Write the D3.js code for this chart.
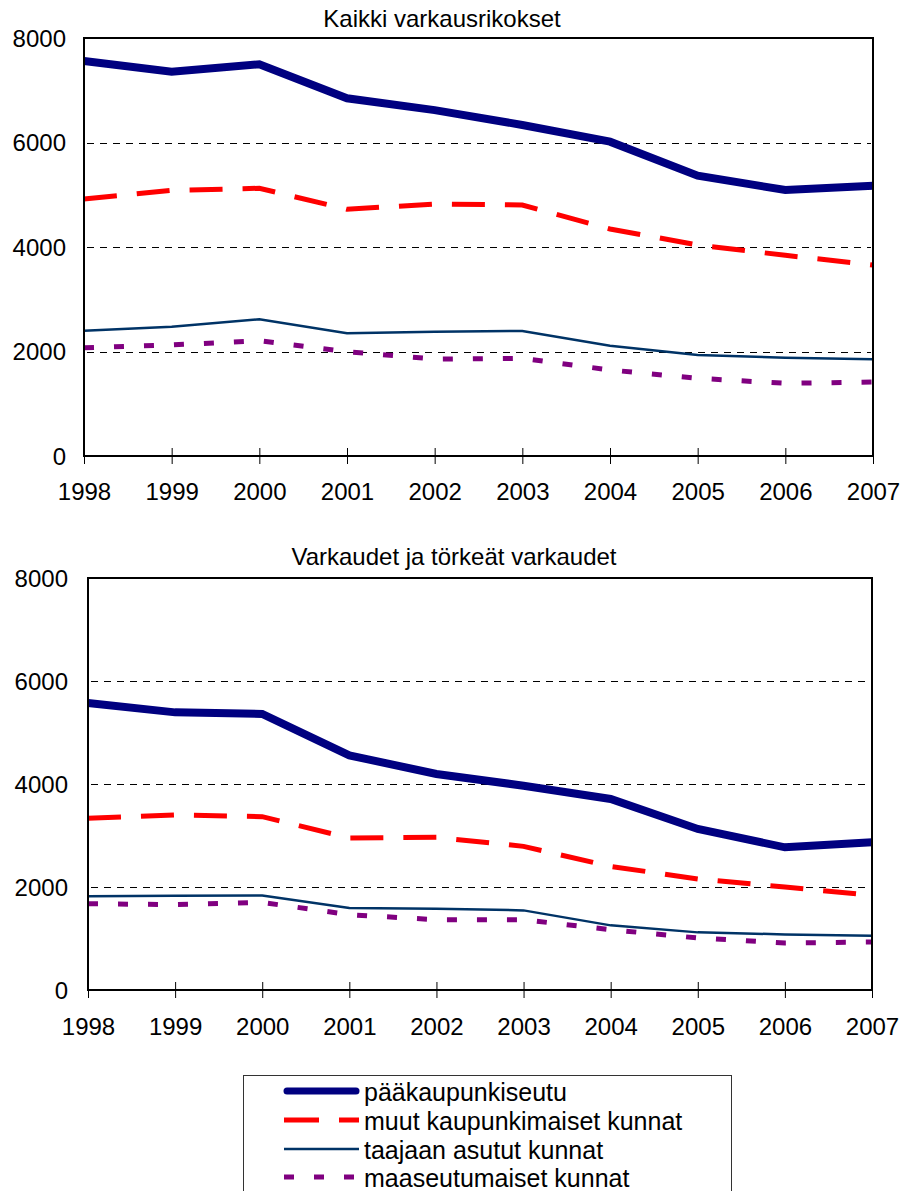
<!DOCTYPE html>
<html>
<head>
<meta charset="utf-8">
<script src="https://cdn.jsdelivr.net/npm/d3@7"></script>
<style>
  html, body { margin: 0; padding: 0; background: #fff; }
  svg { display: block; font-family: "Liberation Sans", Arial, sans-serif; }
</style>
</head>
<body>
<svg id="chart" width="903" height="1191"></svg>
<script>
// ---- data ----
const years = [1998, 1999, 2000, 2001, 2002, 2003, 2004, 2005, 2006, 2007];
const yTicks = [0, 2000, 4000, 6000, 8000];
const seriesNames = ["pääkaupunkiseutu", "muut kaupunkimaiset kunnat", "taajaan asutut kunnat", "maaseutumaiset kunnat"];

const titleTop = "Kaikki varkausrikokset";
const topPaakaupunki = [7560, 7356, 7497, 6846, 6620, 6335, 6016, 5365, 5091, 5174];
const topMuut        = [4919, 5085, 5124, 4722, 4823, 4804, 4345, 4039, 3841, 3656];
const topTaajaan     = [2398, 2475, 2616, 2348, 2380, 2393, 2111, 1933, 1882, 1850];
const topMaaseutu    = [2073, 2125, 2207, 1997, 1855, 1870, 1646, 1487, 1391, 1416];

const titleBottom = "Varkaudet ja törkeät varkaudet";
const botPaakaupunki = [5573, 5391, 5360, 4556, 4195, 3967, 3709, 3127, 2770, 2867];
const botMuut        = [3333, 3398, 3366, 2952, 2964, 2789, 2400, 2156, 2000, 1837];
const botTaajaan     = [1818, 1831, 1837, 1592, 1579, 1546, 1255, 1119, 1080, 1055];
const botMaaseutu    = [1676, 1657, 1701, 1462, 1365, 1365, 1171, 1010, 913, 932];

// ---- styles ----
const styles = [
  { color: "#000080", width: 8, dash: null },
  { color: "#ff0000", width: 5, dash: "33,20" },
  { color: "#003366", width: 2.5, dash: null },
  { color: "#800080", width: 5, dash: "10,20" }
];

const svg = d3.select("#chart");

function drawPanel(cfg) {
  const { left, right, top, bottom, title, titleX, titleY, labelRight, yearBaseline, values } = cfg;
  const x = d3.scaleLinear().domain([years[0], years[years.length - 1]]).range([left, right]);
  const y = d3.scaleLinear().domain([0, 8000]).range([bottom, top]);
  const g = svg.append("g");

  // title
  g.append("text").attr("x", titleX).attr("y", titleY)
    .attr("text-anchor", "middle").attr("font-size", 24).attr("fill", "#000").text(title);

  // gridlines
  g.append("g").selectAll("line").data(yTicks.filter(d => d > 0 && d < 8000)).join("line")
    .attr("x1", left + 3).attr("x2", right - 2)
    .attr("y1", d => Math.round(y(d)) + 0.5).attr("y2", d => Math.round(y(d)) + 0.5)
    .attr("stroke", "#000").attr("stroke-width", 1).attr("stroke-dasharray", "7,6");

  // y axis labels
  const yAxis = d3.axisLeft(y).tickValues(yTicks).tickSize(0).tickPadding(0).tickFormat(d3.format("d"));
  const ya = g.append("g").attr("transform", `translate(${labelRight},0)`).call(yAxis);
  ya.select(".domain").remove();
  ya.selectAll("text").attr("font-size", 24).attr("fill", "#000")
    .attr("font-family", "Liberation Sans, Arial, sans-serif").attr("dy", "0.35em");

  // x axis
  const xAxis = d3.axisBottom(x).tickValues(years).tickSize(8).tickFormat(d3.format("d"));
  const xa = g.append("g").attr("transform", `translate(0,${bottom})`).call(xAxis);
  xa.select(".domain").remove();
  xa.selectAll(".tick line").attr("y1", -8).attr("y2", 8).attr("stroke", "#000").attr("stroke-width", 1);
  xa.selectAll("text").attr("font-size", 24).attr("fill", "#000")
    .attr("font-family", "Liberation Sans, Arial, sans-serif")
    .attr("y", yearBaseline - bottom).attr("dy", 0);

  // lines
  const line = d3.line().x((d, i) => x(years[i])).y(d => y(d));
  values.forEach((vals, k) => {
    const s = styles[k];
    const p = g.append("path").datum(vals).attr("d", line)
      .attr("fill", "none").attr("stroke", s.color).attr("stroke-width", s.width)
      .attr("stroke-linejoin", "miter");
    if (s.dash) p.attr("stroke-dasharray", s.dash);
  });

  // frame
  g.append("rect").attr("x", left).attr("y", top).attr("width", right - left).attr("height", bottom - top)
    .attr("fill", "none").attr("stroke", "#000").attr("stroke-width", 2);
}

drawPanel({
  left: 84, right: 873, top: 38, bottom: 456,
  title: titleTop, titleX: 442, titleY: 27, labelRight: 66, yearBaseline: 500,
  values: [topPaakaupunki, topMuut, topTaajaan, topMaaseutu]
});

drawPanel({
  left: 88, right: 872, top: 578, bottom: 990,
  title: titleBottom, titleX: 454, titleY: 565, labelRight: 68, yearBaseline: 1035,
  values: [botPaakaupunki, botMuut, botTaajaan, botMaaseutu]
});

// legend
const lg = svg.append("g");
lg.append("rect").attr("x", 243.5).attr("y", 1075.5).attr("width", 488).attr("height", 140)
  .attr("fill", "#fff").attr("stroke", "#333").attr("stroke-width", 1);
const rowY = [1091, 1120, 1149, 1177];
seriesNames.forEach((name, k) => {
  const s = styles[k];
  const l = lg.append("line").attr("x1", k === 0 ? 287 : 284).attr("x2", k === 0 ? 356 : 359)
    .attr("y1", rowY[k]).attr("y2", rowY[k])
    .attr("stroke", s.color).attr("stroke-width", k === 0 ? 7 : s.width)
    .attr("stroke-linecap", k === 0 ? "round" : "butt");
  if (s.dash) l.attr("stroke-dasharray", k === 1 ? "35,20" : "10,20");
  lg.append("text").attr("x", 364).attr("y", rowY[k] + 10)
    .attr("font-size", 25).attr("fill", "#000").text(name);
});
</script>
</body>
</html>
